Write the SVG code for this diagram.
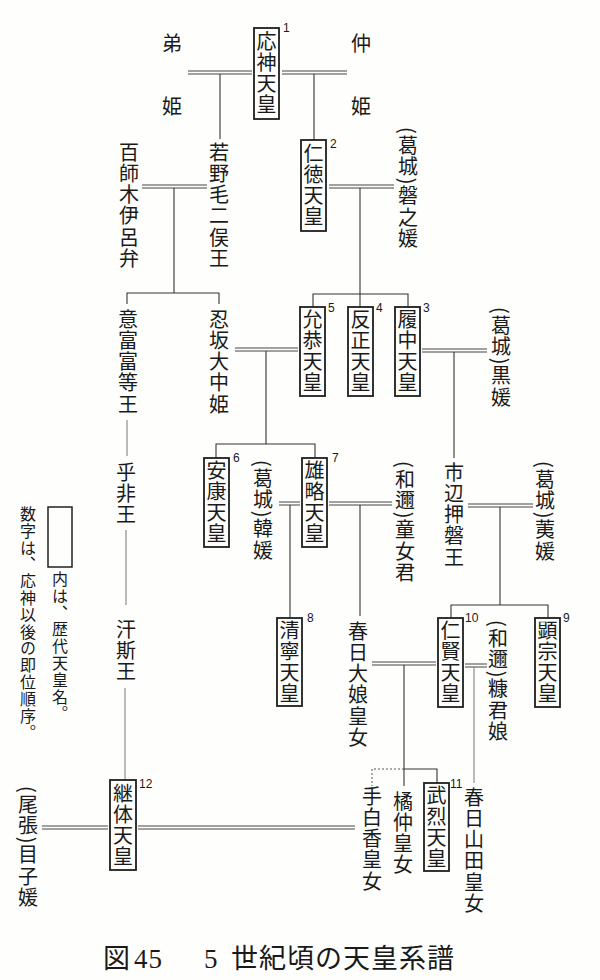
<svg xmlns="http://www.w3.org/2000/svg" width="600" height="980" viewBox="0 0 600 980">
<style>
.v{writing-mode:vertical-rl;font-family:"Noto Sans CJK JP","Noto Sans CJK SC",sans-serif;font-size:20px;letter-spacing:1.3px;fill:#1a1a1a}
.gap{letter-spacing:43px}
.lg{writing-mode:vertical-rl;font-family:"Noto Sans CJK JP",serif;font-size:16px;letter-spacing:0.8px;fill:#1a1a1a}
.box{fill:none;stroke:#1e1e1e;stroke-width:1.8}
.num{font-family:"Liberation Sans",Arial,sans-serif;font-size:12px;fill:#1a1a1a}
.dbl{stroke:#444;stroke-width:1;fill:none}
.ln{stroke:#333;stroke-width:1.1;fill:none}
.thin{stroke:#777;stroke-width:1;fill:none}
.dot{stroke:#555;stroke-width:1;stroke-dasharray:2 2;fill:none}
.cap{font-family:"Liberation Serif","Noto Sans CJK JP",serif;font-size:27px;fill:#1a1a1a;letter-spacing:1px}
</style>
<rect width="600" height="980" fill="#fefefc"/>
<g id="connectors">
<path class="dbl" d="M188 71H252M188 74H252M282 71H347M282 74H347"/>
<path class="ln" d="M220 74V139M314 74V140"/>
<path class="dbl" d="M142 185H207M142 188H207"/>
<path class="ln" d="M174 188V293M127 304V293H219V304"/>
<path class="dbl" d="M329 185H394M329 188H394"/>
<path class="ln" d="M360 188V307M313 307V294H408V307"/>
<path class="dbl" d="M235 348H298M235 351H298"/>
<path class="ln" d="M266 351V444M216 458V444H315V458"/>
<path class="dbl" d="M422 349H487M422 352H487"/>
<path class="ln" d="M454 352V458"/>
<path class="dbl" d="M279 502H300M279 505H300"/>
<path class="ln" d="M290 505V618"/>
<path class="dbl" d="M329 502H392M329 505H392"/>
<path class="ln" d="M360 505V616"/>
<path class="dbl" d="M468 504H533M468 507H533"/>
<path class="ln" d="M500 507V605M451 618V605H548V618"/>
<path class="dbl" d="M372 662H436M372 665H436"/>
<path class="ln" d="M404 665V786M404 769H437V783"/>
<path class="dot" d="M404 769H372V786"/>
<path class="dbl" d="M465 664H487M465 667H487"/>
<path class="thin" d="M474 667V783"/>
<path class="thin" d="M127 420V456M126 530V605M125 688V780"/>
<path class="dbl" d="M42 826H108M42 829H108M138 826H355M138 829H355"/>
</g>
<g id="ojin"><rect class="box" x="254" y="28" width="25" height="91"/><text class="v" x="266.5" y="31">応神天皇</text><text class="num" x="283" y="32">1</text></g>
<g id="ototohime"><text class="v gap" x="172" y="33">弟姫</text></g>
<g id="nakatsuhime"><text class="v gap" x="361" y="33">仲姫</text></g>
<g id="momoshiki"><text class="v" x="129" y="142">百師木伊呂弁</text></g>
<g id="wakanuke"><text class="v" x="219" y="142">若野毛二俣王</text></g>
<g id="nintoku"><rect class="box" x="301" y="140" width="25" height="91"/><text class="v" x="313.5" y="143">仁徳天皇</text><text class="num" x="330" y="148">2</text></g>
<g id="iwanohime"><text class="v" x="408" y="127">(葛城)磐之媛</text></g>
<g id="ohohodo"><text class="v" x="128" y="309">意富富等王</text></g>
<g id="osaka"><text class="v" x="219" y="309">忍坂大中姫</text></g>
<g id="ingyo"><rect class="box" x="300" y="307" width="25" height="89"/><text class="v" x="312.5" y="309">允恭天皇</text><text class="num" x="328" y="312">5</text></g>
<g id="hanzei"><rect class="box" x="348" y="307" width="25" height="89"/><text class="v" x="360.5" y="309">反正天皇</text><text class="num" x="376" y="312">4</text></g>
<g id="richu"><rect class="box" x="395" y="307" width="25" height="89"/><text class="v" x="407.5" y="309">履中天皇</text><text class="num" x="423" y="312">3</text></g>
<g id="kurohime"><text class="v" x="501" y="307">(葛城)黒媛</text></g>
<g id="anko"><rect class="box" x="204" y="458" width="25" height="89"/><text class="v" x="216.5" y="460">安康天皇</text><text class="num" x="233" y="462">6</text></g>
<g id="karahime"><text class="v" x="263" y="460">(葛城)韓媛</text></g>
<g id="yuryaku"><rect class="box" x="302" y="458" width="25" height="89"/><text class="v" x="314.5" y="460">雄略天皇</text><text class="num" x="332" y="462">7</text></g>
<g id="ominagimi"><text class="v" x="405" y="461">(和邇)童女君</text></g>
<g id="ichinobe"><text class="v" x="454" y="462">市辺押磐王</text></g>
<g id="haehime"><text class="v" x="545" y="461">(葛城)荑媛</text></g>
<g id="hohi"><text class="v" x="126" y="462">乎非王</text></g>
<g id="seinei"><rect class="box" x="277" y="618" width="25" height="88"/><text class="v" x="289.5" y="620">清寧天皇</text><text class="num" x="307" y="622">8</text></g>
<g id="kasuga-oiratsume"><text class="v" x="358" y="621">春日大娘皇女</text></g>
<g id="ninken"><rect class="box" x="438" y="618" width="25" height="89"/><text class="v" x="450.5" y="620">仁賢天皇</text><text class="num" x="465" y="622">10</text></g>
<g id="nukakimi"><text class="v" x="498" y="620">(和邇)糠君娘</text></g>
<g id="kenzo"><rect class="box" x="535" y="618" width="25" height="89"/><text class="v" x="547.5" y="620">顕宗天皇</text><text class="num" x="563" y="622">9</text></g>
<g id="ushi"><text class="v" x="126" y="619">汗斯王</text></g>
<g id="keitai"><rect class="box" x="110" y="780" width="26" height="90"/><text class="v" x="123" y="783">継体天皇</text><text class="num" x="139" y="788">12</text></g>
<g id="menokohime"><text class="v" x="28" y="786">(尾張)目子媛</text></g>
<g id="tashiraka"><text class="v" x="372" y="786">手白香皇女</text></g>
<g id="tachibana"><text class="v" x="403" y="791">橘仲皇女</text></g>
<g id="buretsu"><rect class="box" x="424" y="783" width="25" height="88"/><text class="v" x="436.5" y="785">武烈天皇</text><text class="num" x="450" y="788">11</text></g>
<g id="yamada"><text class="v" x="474" y="787">春日山田皇女</text></g>
<g id="legend"><rect fill="none" stroke="#222" stroke-width="1.5" x="48" y="507" width="24" height="60"/><text class="lg" x="60" y="571">内は、歴代天皇名。</text><text class="lg" x="28" y="506">数字は、応神以後の即位順序。</text></g>
<g id="caption"><text class="cap" y="968"><tspan x="103">図</tspan> <tspan x="134">45</tspan> <tspan x="204">5</tspan> <tspan x="231">世紀頃の天皇系譜</tspan></text></g>
</svg>
